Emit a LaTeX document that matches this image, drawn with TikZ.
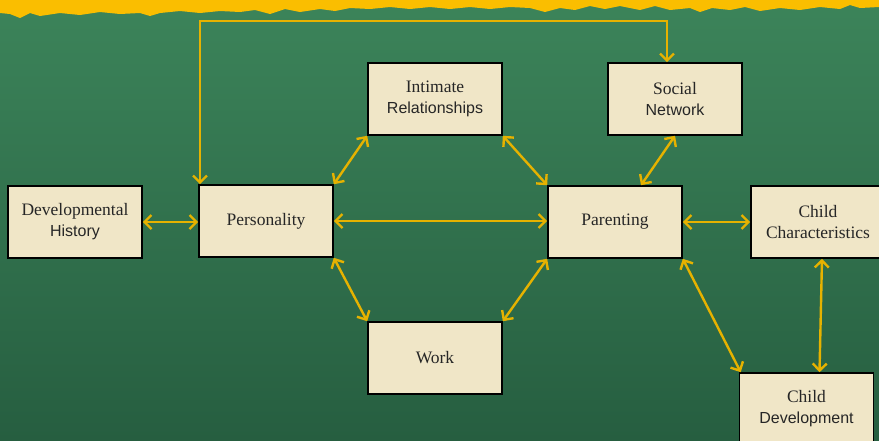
\documentclass[tikz,border=0pt]{standalone}
\usepackage{fontspec}
\setmainfont{Liberation Serif}
\newfontfamily\arialf{Liberation Sans}
\usetikzlibrary{arrows.meta}
\definecolor{bgtop}{RGB}{60,132,90}
\definecolor{bgbot}{RGB}{38,94,64}
\definecolor{gold}{RGB}{230,178,0}
\definecolor{band}{RGB}{250,190,0}
\definecolor{cream}{RGB}{240,230,199}
\newcommand{\sanstext}[1]{{\arialf\fontsize{16}{21}\selectfont #1}}
\tikzset{
  box/.style={draw=black, line width=1.6pt, fill=cream, minimum width=134pt, minimum height=72pt, inner sep=0pt, align=center, font=\fontsize{17.5}{21}\selectfont, text=black!85},
  link/.style={draw=gold, line width=2.4pt, {Straight Barb[length=7pt,width=14pt,line width=2.4pt]}-{Straight Barb[length=7pt,width=14pt,line width=2.4pt]}}
}
\begin{document}
\begin{tikzpicture}[x=1pt,y=-1pt]
\useasboundingbox (0,0) rectangle (879,440);
\begin{scope}
\clip (0,0) rectangle (879,440);
\shade[top color=bgtop, bottom color=bgbot] (0,0) rectangle (879,440);
\fill[band] (0,0) -- (879,0) -- (879,7) -- (860,8) -- (850,5) -- (840,9) -- (820,7) -- (800,10) -- (780,8) -- (760,11) -- (745,7) -- (730,10) -- (712,8) -- (700,12) -- (690,8) -- (670,10) -- (655,6) -- (640,10) -- (620,6) -- (605,9) -- (590,6) -- (575,10) -- (560,8) -- (545,12) -- (530,8) -- (510,7) -- (490,9) -- (470,7) -- (450,9) -- (430,7) -- (410,9) -- (390,7) -- (370,9) -- (350,8) -- (335,11) -- (320,9) -- (300,12) -- (285,9) -- (270,14) -- (255,10) -- (240,12) -- (220,11) -- (200,13) -- (180,11) -- (160,13) -- (150,16) -- (140,13) -- (120,14) -- (100,12) -- (80,15) -- (60,13) -- (40,16) -- (30,13) -- (20,18) -- (10,14) -- (0,13) -- cycle;

\node[box] (dh) at (75,222) {Developmental\\\sanstext{History}};
\node[box] (pers) at (266,221) {Personality};
\node[box] (ir) at (435,99) {Intimate\\\sanstext{Relationships}};
\node[box] (sn) at (675,99) {Social\\\sanstext{Network}};
\node[box] (par) at (615,222) {Parenting};
\node[box] (cc) at (818,222) {Child\\Characteristics};
\node[box] (work) at (435,358) {Work};
\node[box] (cd) at (806.5,409) {Child\\\sanstext{Development}};

\coordinate (t1) at (200,21);
\coordinate (t2) at (667,21);
\draw[link] (pers.north -| t1) -- (t1) -- (t2) -- (sn.north -| t2);

\draw[link] (dh.east) -- (dh.east -| pers.west);
\draw[link] (pers.east) -- (pers.east -| par.west);
\draw[link] (par.east) -- (par.east -| cc.west);
\draw[link] (pers.north east) -- (ir.south west);
\draw[link] (ir.south east) -- (par.north west);
\draw[link] (sn.south) -- ([xshift=26pt]par.north);
\draw[link] (pers.south east) -- (work.north west);
\draw[link] (work.north east) -- (par.south west);
\draw[link] (par.south east) -- ([xshift=2pt]cd.north west);
\draw[link] ([xshift=4pt]cc.south) -- ([xshift=13pt]cd.north);
\end{scope}
\end{tikzpicture}
\end{document}
